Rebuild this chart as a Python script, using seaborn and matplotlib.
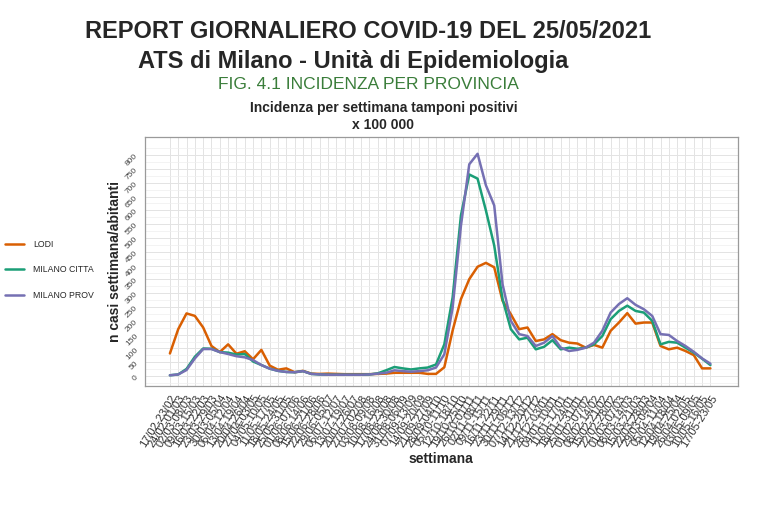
"""Incidenza settimanale tamponi positivi x 100 000 per provincia (ATS Milano)."""

import matplotlib.pyplot as plt
import pandas as pd
import seaborn as sns
from matplotlib.ticker import FixedLocator

# ---------- data ----------

weeks = [
    "17/02-23/02", "24/02-01/03", "02/03-08/03", "09/03-15/03", "16/03-22/03",
    "23/03-29/03", "30/03-05/04", "06/04-12/04", "13/04-19/04", "20/04-26/04",
    "27/04-03/05", "04/05-10/05", "11/05-17/05", "18/05-24/05", "25/05-31/05",
    "01/06-07/06", "08/06-14/06", "15/06-21/06", "22/06-28/06", "29/06-05/07",
    "06/07-12/07", "13/07-19/07", "20/07-26/07", "27/07-02/08", "03/08-09/08",
    "10/08-16/08", "17/08-23/08", "24/08-30/08", "31/08-06/09", "07/09-13/09",
    "14/09-20/09", "21/09-27/09", "28/09-04/10", "05/10-11/10", "12/10-18/10",
    "19/10-25/10", "26/10-01/11", "02/11-08/11", "09/11-15/11", "16/11-22/11",
    "23/11-29/11", "30/11-06/12", "07/12-13/12", "14/12-20/12", "21/12-27/12",
    "28/12-03/01", "04/01-10/01", "11/01-17/01", "18/01-24/01", "25/01-31/01",
    "01/02-07/02", "08/02-14/02", "15/02-21/02", "22/02-28/02", "01/03-07/03",
    "08/03-14/03", "15/03-21/03", "22/03-28/03", "29/03-04/04", "05/04-11/04",
    "12/04-18/04", "19/04-25/04", "26/04-02/05", "03/05-09/05", "10/05-16/05",
    "17/05-23/05",
]

lodi = [
    82, 170, 227, 218, 176, 109, 87, 115, 81, 90,
    61, 95, 38, 23, 28, 14, 19, 9, 8, 9,
    8, 7, 7, 7, 7, 8, 9, 12, 12, 12,
    12, 8, 8, 32, 165, 279, 351, 396, 410, 394,
    273, 224, 170, 176, 127, 133, 152, 130, 121, 118,
    103, 113, 103, 164, 194, 228, 190, 194, 194, 109,
    97, 103, 91, 76, 28, 28,
]

milano_citta = [
    3, 6, 26, 70, 100, 99, 87, 85, 78, 80,
    53, 40, 27, 19, 15, 14, 18, 8, 6, 5,
    5, 5, 5, 5, 6, 10, 21, 33, 28, 24,
    28, 31, 42, 115, 285, 582, 730, 715, 600, 473,
    279, 170, 133, 139, 97, 106, 130, 97, 103, 99,
    103, 115, 145, 206, 236, 255, 236, 230, 200, 115,
    124, 121, 103, 85, 63, 40,
]

milano_prov = [
    3, 6, 22, 64, 98, 98, 87, 80, 72, 68,
    58, 40, 27, 19, 15, 14, 18, 8, 6, 5,
    5, 5, 5, 5, 6, 9, 12, 21, 18, 16,
    18, 21, 31, 79, 248, 545, 767, 805, 691, 618,
    333, 200, 152, 145, 109, 121, 145, 103, 91, 95,
    103, 121, 164, 230, 261, 282, 258, 242, 218, 152,
    149, 127, 109, 88, 64, 45,
]

y_ticks = list(range(0, 801, 50))
provinces = ["LODI", "MILANO CITTA", "MILANO PROV"]
palette = ["#D95F02", "#1B9E77", "#7570B3"]

# ---------- plot ----------

sns.set_style("white")
plt.rcParams["font.family"] = ["Liberation Sans", "DejaVu Sans"]

df = pd.DataFrame(
    {"week": range(len(weeks)), "LODI": lodi,
     "MILANO CITTA": milano_citta, "MILANO PROV": milano_prov}
).melt(id_vars="week", var_name="provincia", value_name="incidenza")

fig = plt.figure(figsize=(7.67, 5.12), dpi=100)
ax = fig.add_axes([0.189, 0.246, 0.773, 0.486])

sns.lineplot(
    data=df, x="week", y="incidenza", hue="provincia",
    hue_order=provinces, palette=palette, linewidth=1.8, ax=ax,
)

ax.set_xlim(-3, len(weeks) + 2.3)
ax.set_ylim(-36, 865)
ax.set_xticks(range(len(weeks)))
ax.set_xticklabels(weeks, rotation=58, ha="right", rotation_mode="anchor",
                   fontsize=8, color="#333333")
ax.yaxis.set_major_locator(FixedLocator(y_ticks))
ax.yaxis.set_minor_locator(FixedLocator([v + 25 for v in y_ticks] + [-25]))
ax.tick_params(axis="y", which="major", labelsize=6, labelrotation=45,
               colors="#555555", length=3, pad=1)
ax.tick_params(axis="x", which="major", length=3, color="#555555", pad=2)
ax.tick_params(which="minor", length=0)
for lbl in ax.get_yticklabels():
    lbl.set_color("#444444")

ax.grid(True, which="major", color="#e3e3e3", linewidth=0.7)
ax.grid(True, which="minor", axis="y", color="#efefef", linewidth=0.5)
ax.set_axisbelow(True)
for sp in ax.spines.values():
    sp.set_color("#9a9a9a")
    sp.set_linewidth(0.9)

ax.set_xlabel("settimana", fontsize=10, fontweight="bold", labelpad=2)
ax.set_ylabel("n casi settimana/abitanti", fontsize=10, fontweight="bold", labelpad=2)

handles, labels = ax.get_legend_handles_labels()
ax.legend_.remove()
fig.legend(handles, labels, loc="center left", bbox_to_anchor=(-0.004, 0.473),
           frameon=False, fontsize=6.3, handlelength=2.2, labelspacing=1.9,
           handletextpad=1.0)

fig.text(0.48, 0.938, "REPORT GIORNALIERO COVID-19 DEL 25/05/2021",
         ha="center", va="center", fontsize=17, fontweight="bold")
fig.text(0.461, 0.88, "ATS di Milano - Unità di Epidemiologia",
         ha="center", va="center", fontsize=17, fontweight="bold")
fig.text(0.48, 0.834, "FIG. 4.1 INCIDENZA PER PROVINCIA",
         ha="center", va="center", fontsize=12.5, color="#3a7d3a")
fig.text(0.50, 0.773, "Incidenza per settimana tamponi positivi\nx 100 000",
         ha="center", va="center", fontsize=10, fontweight="bold",
         linespacing=1.25)

fig.savefig("out.png", dpi=100, facecolor="white")
